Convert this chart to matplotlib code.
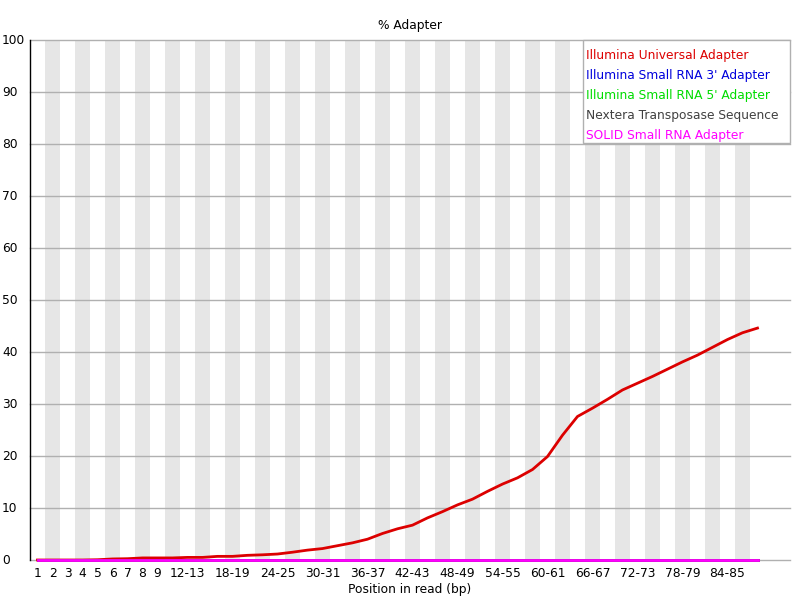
import matplotlib
matplotlib.use('Agg')
import matplotlib.pyplot as plt
from matplotlib.patches import Rectangle

# position bins along the read
positions = ['1', '2', '3', '4', '5', '6', '7', '8', '9',
             '10-11', '12-13', '14-15', '16-17', '18-19', '20-21', '22-23',
             '24-25', '26-27', '28-29', '30-31', '32-33', '34-35', '36-37',
             '38-39', '40-41', '42-43', '44-45', '46-47', '48-49', '50-51',
             '52-53', '54-55', '56-57', '58-59', '60-61', '62-63', '64-65',
             '66-67', '68-69', '70-71', '72-73', '74-75', '76-77', '78-79',
             '80-81', '82-83', '84-85', '86-87', '88-89']
shown_ticks = ['1', '2', '3', '4', '5', '6', '7', '8', '9', '12-13', '18-19',
               '24-25', '30-31', '36-37', '42-43', '48-49', '54-55', '60-61',
               '66-67', '72-73', '78-79', '84-85']

# % adapter per bin
illumina_universal = [0.0, 0.0, 0.0, 0.0, 0.05, 0.2, 0.25, 0.4, 0.4, 0.4,
                      0.5, 0.5, 0.7, 0.7, 0.9, 1.0, 1.15, 1.5, 1.9, 2.2,
                      2.75, 3.3, 4.0, 5.1, 6.0, 6.7, 8.1, 9.3, 10.6, 11.7,
                      13.2, 14.6, 15.8, 17.4, 19.9, 24.0, 27.6, 29.2, 30.9, 32.7,
                      34.0, 35.3, 36.7, 38.1, 39.4, 40.9, 42.4, 43.7, 44.6]
small_rna_3 = [0, 0, 0, 0, 0, 0, 0, 0, 0, 0, 0, 0, 0, 0, 0, 0, 0, 0, 0, 0,
               0, 0, 0, 0, 0, 0, 0, 0, 0, 0, 0, 0, 0, 0, 0, 0, 0, 0, 0, 0,
               0, 0, 0, 0, 0, 0, 0, 0, 0]
small_rna_5 = [0, 0, 0, 0, 0, 0, 0, 0, 0, 0, 0, 0, 0, 0, 0, 0, 0, 0, 0, 0,
               0, 0, 0, 0, 0, 0, 0, 0, 0, 0, 0, 0, 0, 0, 0, 0, 0, 0, 0, 0,
               0, 0, 0, 0, 0, 0, 0, 0, 0]
nextera = [0, 0, 0, 0, 0, 0, 0, 0, 0, 0, 0, 0, 0, 0, 0, 0, 0, 0, 0, 0,
           0, 0, 0, 0, 0, 0, 0, 0, 0, 0, 0, 0, 0, 0, 0, 0, 0, 0, 0, 0,
           0, 0, 0, 0, 0, 0, 0, 0, 0]
solid_small_rna = [0, 0, 0, 0, 0, 0, 0, 0, 0, 0, 0, 0, 0, 0, 0, 0, 0, 0, 0, 0,
                   0, 0, 0, 0, 0, 0, 0, 0, 0, 0, 0, 0, 0, 0, 0, 0, 0, 0, 0, 0,
                   0, 0, 0, 0, 0, 0, 0, 0, 0]

series_names = ['Illumina Universal Adapter', "Illumina Small RNA 3' Adapter",
                "Illumina Small RNA 5' Adapter", 'Nextera Transposase Sequence',
                'SOLID Small RNA Adapter']
series_colors = ['#dc0000', '#0000dc', '#00dc00', '#404040', '#ff00ff']
series = [illumina_universal, small_rna_3, small_rna_5, nextera, solid_small_rna]

W, H = 800, 600
FS = 8.8


def fx(px):
    return px / W


def fy(py):
    return 1 - py / H


fig = plt.figure(figsize=(8, 6), dpi=100)
ax = fig.add_axes([fx(30), fy(560), fx(760), 520 / H])

n = len(positions)
x = list(range(n))

# alternating grey stripes
for i in x:
    if i % 2 == 1:
        ax.axvspan(i - 0.5, i + 0.5, color='#e6e6e6', lw=0, zorder=0)
for v in range(0, 101, 10):
    ax.axhline(v, color='#b0b0b0', lw=1, zorder=1, clip_on=False)

for vals, col in zip(series, series_colors):
    ax.plot(x, vals, color=col, lw=2, zorder=3, clip_on=False)

ax.set_xlim(-0.5, (790 - 30) / 15 - 0.5)
ax.set_ylim(0, 100)
for s in ['top', 'right', 'bottom']:
    ax.spines[s].set_visible(False)
ax.spines['left'].set_color('black')
ax.spines['left'].set_linewidth(1)
ax.spines['left'].set_zorder(4)

tick_pos = [positions.index(t) for t in shown_ticks]
ax.set_xticks(tick_pos)
ax.set_xticklabels(shown_ticks, fontsize=FS)
ax.tick_params(axis='x', length=0, pad=5)
ax.set_yticks([])
for v in range(0, 101, 10):
    fig.text(fx(2), fy(560 - v * 5.2), str(v), fontsize=FS, ha='left', va='center')

fig.text(fx(410), fy(25), '% Adapter', fontsize=FS, ha='center', va='center')
fig.text(fx(410), fy(590), 'Position in read (bp)', fontsize=FS, ha='center', va='center')

# legend box
fig.patches.append(Rectangle((fx(583), fy(143)), fx(207), 103 / H,
                             transform=fig.transFigure, facecolor='white',
                             edgecolor='#b0b0b0', lw=1, zorder=5))
for k, (name, col) in enumerate(zip(series_names, series_colors)):
    fig.text(fx(586), fy(55 + 20 * k), name, color=col, fontsize=FS,
             ha='left', va='center', zorder=6)

fig.savefig('out.png', dpi=100)
